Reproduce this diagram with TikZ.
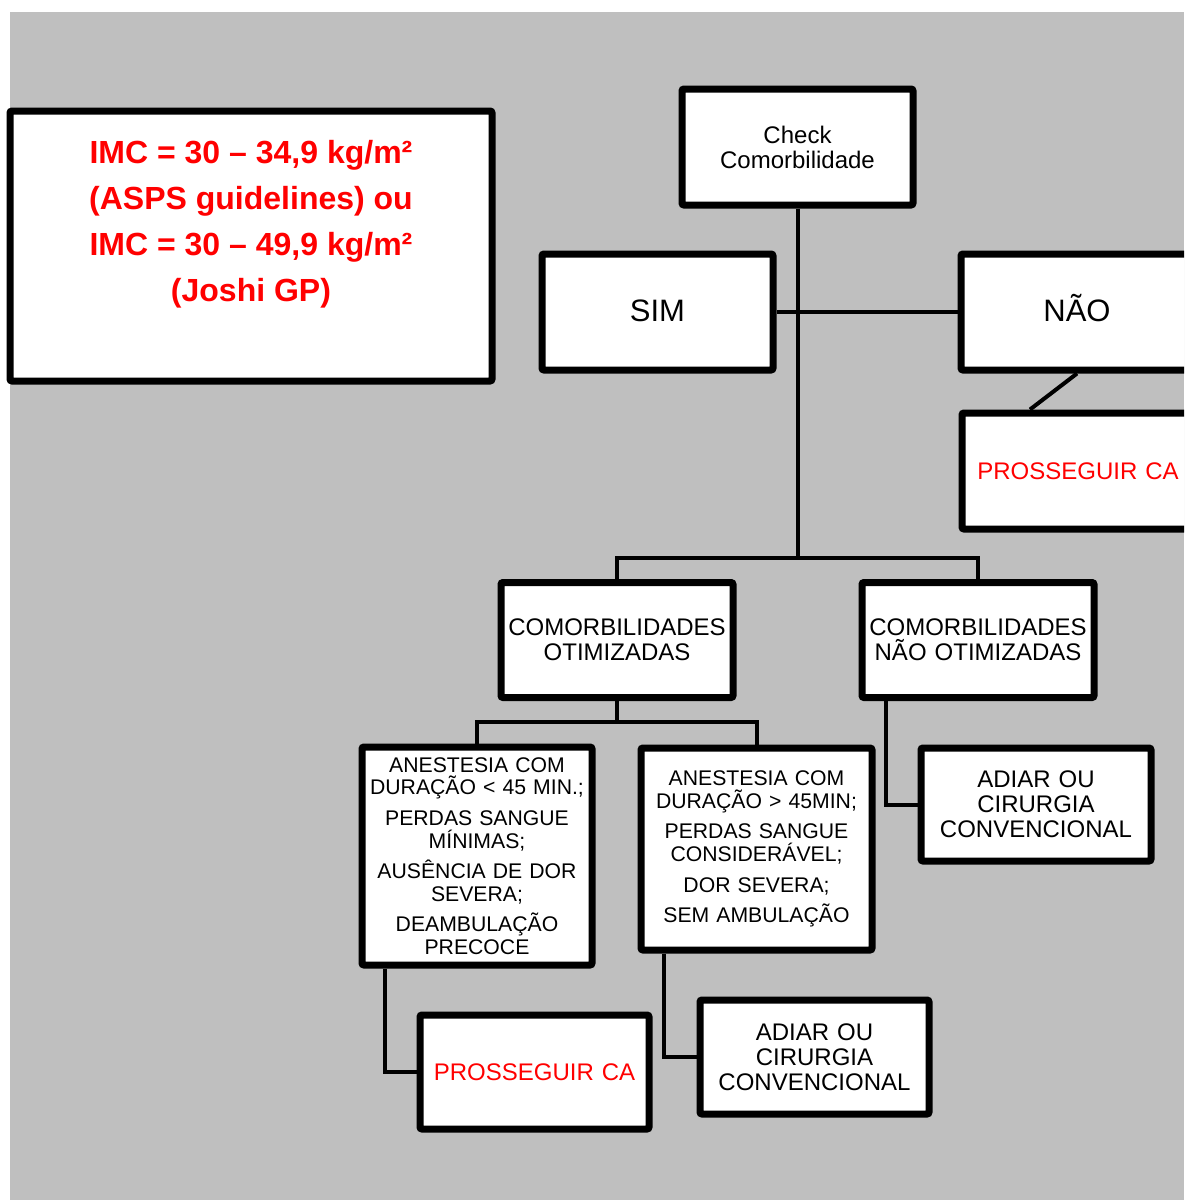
\documentclass[tikz,border=0pt]{standalone}
\usepackage{fontspec}
\setmainfont{Liberation Sans}
\usetikzlibrary{shadows}
\definecolor{bggray}{HTML}{BFBFBF}
\definecolor{alertred}{HTML}{FF0000}
\begin{document}
\begin{tikzpicture}[x=1pt,y=-1pt,
  box/.style={draw=black, line width=7pt, fill=white, rounded corners=2pt,
    inner sep=0pt, align=center, minimum width=231pt, minimum height=116pt,
    text width=225pt, font=\fontsize{24}{25}\selectfont,
    drop shadow={shadow xshift=2pt, shadow yshift=-2.5pt, opacity=0.25}},
  bigtxt/.style={font=\fontsize{31}{32}\selectfont, text height=22pt, text depth=3pt},
  listtxt/.style={font=\fontsize{21.2}{22.6}\selectfont},
  link/.style={line width=4pt, draw=black}]
\useasboundingbox (0,0) rectangle (1184,1200);
\clip (0,0) rectangle (1184,1200);
\fill[white] (0,0) rectangle (1184,1200);
\fill[bggray] (10,12) rectangle (1184,1200);

% BMI criteria panel
\node[box, minimum width=482pt, minimum height=270pt] (imc) at (251,246) {};
\node[align=center, text=alertred, inner sep=0pt,
  font=\fontsize{32}{46}\selectfont\bfseries] (imctext) at (251,224.5)
  {IMC = 30 – 34,9 kg/m²\\(ASPS guidelines) ou\\IMC = 30 – 49,9 kg/m²\\(Joshi GP)};

% decision tree
\node[box] (check) at (797.5,147) {Check\\Comorbilidade};
\node[box, bigtxt] (sim) at (657.5,312) {SIM};
\node[box, bigtxt, minimum width=232pt] (nao) at (1077,312) {NÃO};
\node[box, minimum width=232pt, text=alertred] (pr1) at (1078,471) {PROSSEGUIR CA};

\node[box, minimum width=232pt, minimum height=115pt] (otim) at (617,640)
  {COMORBILIDADES\\OTIMIZADAS};
\node[box, minimum width=232pt, minimum height=115pt] (notim) at (978,640)
  {COMORBILIDADES\\NÃO OTIMIZADAS};

\node[box, listtxt, minimum width=230pt, minimum height=218pt] (al) at (477,856)
  {ANESTESIA COM\\DURAÇÃO < 45 MIN.;\\[8pt]PERDAS SANGUE\\MÍNIMAS;\\[8pt]AUSÊNCIA DE DOR\\SEVERA;\\[8pt]DEAMBULAÇÃO\\PRECOCE};
\node[box, listtxt, minimum width=231pt, minimum height=202pt] (ar) at (756.5,849)
  {ANESTESIA COM\\DURAÇÃO > 45MIN;\\[8pt]PERDAS SANGUE\\CONSIDERÁVEL;\\[8pt]DOR SEVERA;\\[8pt]SEM AMBULAÇÃO};

\node[box, minimum width=230pt, minimum height=113pt] (ad1) at (1036,804.5)
  {ADIAR OU\\CIRURGIA\\CONVENCIONAL};
\node[box, minimum width=229pt, minimum height=114pt, text=alertred] (pr2) at (534.5,1072)
  {PROSSEGUIR CA};
\node[box, minimum width=229pt, minimum height=114pt] (ad2) at (814.5,1057)
  {ADIAR OU\\CIRURGIA\\CONVENCIONAL};

% connectors
\coordinate (b1) at (797.5,558);
\coordinate (b2) at (617,722);
\draw[link] (sim.east) -- (nao.west);
\draw[link] (check.south) -- (b1);
\draw[link] (otim.north) |- (b1) -| (notim.north);
\draw[link] (nao.south) -- ([xshift=-48pt]pr1.north);
\draw[link] (otim.south) -- (b2);
\draw[link] (al.north) |- (b2) -| (ar.north);
\draw[link] ([xshift=-92pt]al.south) |- (pr2.west);
\draw[link] ([xshift=-92.5pt]ar.south) |- (ad2.west);
\draw[link] ([xshift=-92pt]notim.south) |- (ad1.west);
\end{tikzpicture}
\end{document}
